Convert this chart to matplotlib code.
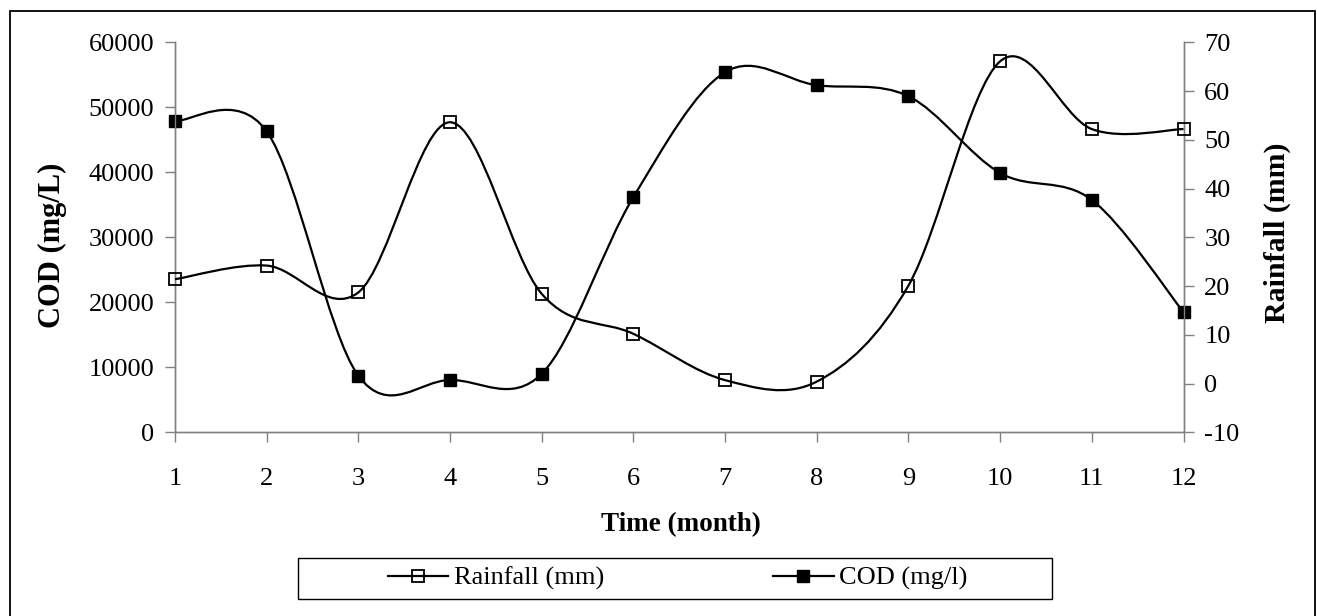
import matplotlib
matplotlib.use("Agg")
import matplotlib.pyplot as plt
from matplotlib.path import Path
from matplotlib.patches import PathPatch, Rectangle
from matplotlib.lines import Line2D

plt.rcParams['font.family'] = ['Liberation Serif', 'DejaVu Serif']

months = [1, 2, 3, 4, 5, 6, 7, 8, 9, 10, 11, 12]
rainfall = [21.4, 24.2, 18.7, 53.6, 18.4, 10.2, 0.7, 0.4, 20.1, 66.1, 52.2, 52.2]
cod = [47900, 46300, 8700, 8050, 9000, 36200, 55400, 53400, 51700, 39900, 35750, 18500]
cod_ticks = [0, 10000, 20000, 30000, 40000, 50000, 60000]
rain_ticks = [-10, 0, 10, 20, 30, 40, 50, 60, 70]

GRAY = '#808080'
FS = 19


def smooth_path(xs, ys):
    """Smoothed (Catmull-Rom style) Bezier path through the data points."""
    n = len(xs)
    verts = [(xs[0], ys[0])]
    codes = [Path.MOVETO]
    for i in range(n - 1):
        x0, y0 = (xs[i - 1], ys[i - 1]) if i > 0 else (xs[i], ys[i])
        x1, y1 = xs[i], ys[i]
        x2, y2 = xs[i + 1], ys[i + 1]
        x3, y3 = (xs[i + 2], ys[i + 2]) if i + 2 < n else (xs[i + 1], ys[i + 1])
        c1 = (x1 + (x2 - x0) / 6.0, y1 + (y2 - y0) / 6.0)
        c2 = (x2 - (x3 - x1) / 6.0, y2 - (y3 - y1) / 6.0)
        verts += [c1, c2, (x2, y2)]
        codes += [Path.CURVE4, Path.CURVE4, Path.CURVE4]
    return Path(verts, codes)


fig = plt.figure(figsize=(13.17, 6.16), dpi=100)
W, H = 1317, 616
left, right, top, bottom = 175, 1183.5, 42.3, 432.3
ax = fig.add_axes([left / W, 1 - bottom / H, (right - left) / W, (bottom - top) / H])
ax2 = ax.twinx()

# COD (left axis)
ax.add_patch(PathPatch(smooth_path(months, cod), facecolor='none', edgecolor='black',
                       lw=1.6, transform=ax.transData, zorder=3))
ax.plot(months, cod, linestyle='none', marker='s', markersize=8.5,
        markerfacecolor='black', markeredgecolor='black', zorder=4, clip_on=False)

# Rainfall (right axis)
ax2.add_patch(PathPatch(smooth_path(months, rainfall), facecolor='none', edgecolor='black',
                        lw=1.6, transform=ax2.transData, zorder=3))
ax2.plot(months, rainfall, linestyle='none', marker='s', markersize=8.5,
         markerfacecolor='none', markeredgecolor='black', markeredgewidth=1.3,
         zorder=4, clip_on=False)

ax.set_xlim(1, 12)
ax.set_ylim(0, 60000)
ax2.set_ylim(-10, 70)
ax.set_xticks(months)
ax.set_xticklabels([str(m) for m in months])
ax.set_yticks(cod_ticks)
ax.set_yticklabels([str(t) for t in cod_ticks])
ax2.set_yticks(rain_ticks)
ax2.set_yticklabels([str(t) for t in rain_ticks])

for a in (ax, ax2):
    a.spines['top'].set_visible(False)
    for s in ('left', 'right', 'bottom'):
        a.spines[s].set_color(GRAY)
        a.spines[s].set_linewidth(1.0)
    a.patch.set_visible(False)

ax.tick_params(axis='x', direction='out', length=7, width=1, color=GRAY,
               labelsize=FS, pad=18.5)
ax.tick_params(axis='y', direction='out', length=7, width=1, color=GRAY,
               labelsize=FS, pad=8)
ax2.tick_params(axis='y', direction='out', length=7, width=1, color=GRAY,
                labelsize=FS, pad=8)

ax.set_ylabel('COD (mg/L)', fontsize=22, fontweight='bold', va='center', ha='center')
ax.yaxis.set_label_coords((52.5 - left) / (right - left), (bottom - 245) / (bottom - top))
ax2.set_ylabel('Rainfall (mm)', fontsize=21.5, fontweight='bold', va='center', ha='center',
               rotation=90)
ax2.yaxis.set_label_coords((1277.5 - left) / (right - left), (bottom - 233) / (bottom - top))
ax.set_xlabel('Time (month)', fontsize=19.5, fontweight='bold', va='center', ha='center')
ax.xaxis.set_label_coords((681 - left) / (right - left), (bottom - 525) / (bottom - top))

# Legend
handles = [
    Line2D([], [], color='black', lw=1.6, marker='s', markersize=8,
           markerfacecolor='none', markeredgecolor='black', markeredgewidth=1.3),
    Line2D([], [], color='black', lw=1.6, marker='s', markersize=8,
           markerfacecolor='black', markeredgecolor='black'),
]
fig.legend(handles, ['Rainfall (mm)', 'COD (mg/l)'], loc='center',
           bbox_to_anchor=(677.5 / W, 1 - 578.5 / H), ncol=2, frameon=False,
           fontsize=FS, handlelength=2.3, handletextpad=0.2, columnspacing=6.4,
           numpoints=1)
fig.patches.append(Rectangle((298 / W, 1 - 599.3 / H), (1052 - 298) / W, (599.3 - 557.7) / H,
                             transform=fig.transFigure, facecolor='none',
                             edgecolor='black', lw=1.0))

# Outer chart border
fig.patches.append(Rectangle((9.5 / W, -0.02), (1315 - 9.5) / W, 1 - 11 / H + 0.02,
                             transform=fig.transFigure, facecolor='none',
                             edgecolor='black', lw=1.3))

fig.savefig('out.png', dpi=100)
